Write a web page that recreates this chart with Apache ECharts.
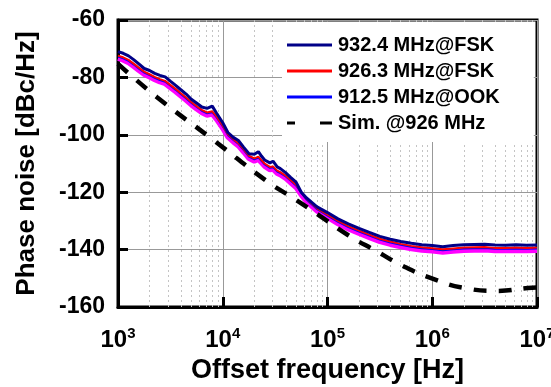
<!DOCTYPE html>
<html>
<head>
<meta charset="utf-8">
<script src="https://cdn.jsdelivr.net/npm/echarts@6/dist/echarts.min.js"></script>
<style>
  html, body { margin: 0; padding: 0; background: #fff; }
  #chart { width: 551px; height: 387px; }
</style>
</head>
<body>
<div id="chart"></div>
<script>
// offset frequencies [Hz] of the measured traces
const freqHz = [1000, 1120, 1260, 1410, 1580, 1780, 2000, 2240, 2510, 2820,
  3160, 3550, 3980, 4470, 5010, 5620, 6310, 7080, 7940, 8710,
  10000, 11200, 12600, 14100, 15800, 17800, 20000, 21900, 23400, 25100,
  28200, 30200, 33100, 35500, 39800, 44700, 50100, 56200, 63100, 79400,
  100000, 126000, 158000, 200000, 251000, 316000, 398000, 501000, 631000, 794000,
  1000000, 1260000, 1580000, 2000000, 2510000, 3160000, 3980000, 5010000, 6310000, 7940000,
  10000000];

// phase noise [dBc/Hz]
const pn932FSK = [-71.0, -71.6, -72.5, -73.8, -75.3, -76.9, -77.6, -78.6, -79.3, -79.8,
  -81.3, -82.8, -84.3, -85.8, -87.6, -88.9, -90.3, -90.8, -90.0, -92.4,
  -95.8, -99.2, -100.9, -102.0, -104.3, -106.6, -106.8, -105.9, -107.4, -108.8,
  -109.8, -109.2, -111.2, -111.8, -113.2, -114.9, -116.5, -120.0, -122.0, -125.1,
  -127.1, -129.3, -131.0, -132.6, -134.0, -135.4, -136.4, -137.2, -137.8, -138.3,
  -138.6, -139.0, -138.6, -138.3, -138.2, -138.1, -138.4, -138.5, -138.3, -138.5,
  -138.4];
const pn926FSK = [-72.4, -73.0, -73.9, -75.2, -76.6, -78.0, -78.9, -79.8, -80.6, -81.2,
  -82.6, -84.0, -85.5, -87.0, -88.6, -90.0, -91.3, -92.2, -91.8, -93.6,
  -96.8, -99.8, -101.5, -102.9, -105.0, -107.3, -108.2, -107.6, -108.8, -110.0,
  -111.2, -111.0, -112.5, -113.0, -114.2, -115.8, -117.4, -120.0, -122.3, -125.6,
  -127.8, -130.0, -131.8, -133.4, -134.8, -136.2, -137.2, -138.0, -138.7, -139.2,
  -139.5, -139.9, -139.6, -139.3, -139.2, -139.1, -139.4, -139.4, -139.3, -139.4,
  -139.3];
const pn912OOK = [-72.8, -73.4, -74.3, -75.6, -77.0, -78.4, -79.3, -80.2, -81.0, -81.6,
  -83.0, -84.4, -85.9, -87.4, -89.0, -90.4, -91.7, -92.6, -92.2, -94.0,
  -97.2, -100.2, -101.9, -103.3, -105.4, -107.7, -108.6, -108.0, -109.2, -110.4,
  -111.6, -111.4, -112.9, -113.4, -114.6, -116.2, -117.8, -120.4, -122.7, -126.0,
  -128.2, -130.4, -132.2, -133.8, -135.2, -136.6, -137.6, -138.4, -139.1, -139.6,
  -139.9, -140.3, -140.0, -139.7, -139.6, -139.5, -139.8, -139.8, -139.7, -139.8,
  -139.7];
const pnMagenta = [-73.4, -74.0, -74.9, -76.2, -77.6, -79.0, -79.9, -80.8, -81.6, -82.2,
  -83.6, -85.0, -86.5, -88.0, -89.6, -91.0, -92.3, -93.2, -92.8, -94.6,
  -97.8, -100.8, -102.5, -103.9, -106.0, -108.3, -109.2, -108.6, -109.8, -111.0,
  -112.2, -112.0, -113.5, -114.0, -115.2, -116.8, -118.4, -121.0, -123.3, -126.6,
  -128.8, -131.0, -132.8, -134.4, -135.8, -137.2, -138.2, -139.0, -139.7, -140.2,
  -140.5, -140.9, -140.6, -140.3, -140.2, -140.1, -140.4, -140.4, -140.3, -140.4,
  -140.3];

// simulation @926 MHz
const simFreqHz = [1000, 2340, 8130, 26900, 46800, 85100, 158000, 295000, 525000,
  1020000, 2040000, 4170000, 8130000, 10000000];
const sim926 = [-75.3, -86.8, -101.8, -116.4, -122.0, -128.3, -135.0, -140.6, -145.7,
  -150.2, -153.4, -154.4, -153.4, -153.2];

// axes
const decades = [1000, 10000, 100000, 1000000, 10000000];
const minorMult = [2, 3, 4, 5, 6, 7, 8, 9];
const yTicks = [-160, -140, -120, -100, -80, -60];

const minorLines = [];
decades.slice(0, -1).forEach(d => minorMult.forEach(m => minorLines.push({ xAxis: d * m })));

const pairs = (xs, ys) => xs.map((x, i) => [x, ys[i]]);
const FONT = '"Liberation Sans", Arial, sans-serif';
const SOLID_ICON = 'path://M0,0h45v3h-45z';
const DASH_ICON = 'path://M0,0h8v3h-8z M33,0h12v3h-12z';

const chart = echarts.init(document.getElementById('chart'));

function trace(name, data, color, width, z) {
  return {
    name: name,
    type: 'line',
    data: data,
    symbol: 'none',
    z: z,
    lineStyle: { color: color, width: width },
    itemStyle: { color: color }
  };
}

const option = {
  backgroundColor: '#fff',
  animation: false,
  grid: {
    left: 118, right: 14, top: 20, bottom: 80,
    outerBoundsMode: 'none',
    show: true, borderColor: '#000', borderWidth: 3, backgroundColor: 'transparent'
  },
  legend: {
    data: [
      { name: '932.4 MHz@FSK', icon: SOLID_ICON },
      { name: '926.3 MHz@FSK', icon: SOLID_ICON },
      { name: '912.5 MHz@OOK', icon: SOLID_ICON },
      { name: 'Sim. @926 MHz', icon: DASH_ICON }
    ],
    orient: 'vertical',
    left: 282, top: 22,
    padding: [13, 34, 9, 5],
    backgroundColor: '#fff',
    itemWidth: 45, itemHeight: 3,
    itemGap: 6,
    textStyle: { fontFamily: FONT, fontWeight: 'bold', fontSize: 20, color: '#000', lineHeight: 20, padding: [0, 0, 0, 1] }
  },
  xAxis: {
    type: 'log', logBase: 10,
    min: decades[0], max: decades[decades.length - 1],
    name: 'Offset frequency [Hz]',
    nameLocation: 'middle', nameGap: 50,
    nameTextStyle: { fontFamily: FONT, fontWeight: 'bold', fontSize: 27, color: '#000' },
    axisLine: { lineStyle: { color: '#000', width: 3 } },
    axisTick: { inside: true, length: 10, lineStyle: { color: '#000', width: 3 } },
    splitLine: { show: true, lineStyle: { color: '#999', width: 1 } },
    axisLabel: {
      margin: 19,
      formatter: v => '{b|10}{s|' + Math.round(Math.log10(v)) + '}',
      rich: {
        b: { fontFamily: FONT, fontWeight: 'bold', fontSize: 24, color: '#000', verticalAlign: 'bottom', lineHeight: 26 },
        s: { fontFamily: FONT, fontWeight: 'bold', fontSize: 15, color: '#000', verticalAlign: 'top', lineHeight: 26, padding: [0, 0, 10, 0] }
      }
    }
  },
  yAxis: {
    type: 'value',
    min: yTicks[0], max: yTicks[yTicks.length - 1], interval: 20,
    name: 'Phase noise [dBc/Hz]',
    nameLocation: 'middle', nameGap: 78,
    nameTextStyle: { fontFamily: FONT, fontWeight: 'bold', fontSize: 26, color: '#000' },
    axisLine: { lineStyle: { color: '#000', width: 3 } },
    axisTick: { inside: true, length: 10, lineStyle: { color: '#000', width: 3 } },
    splitLine: { show: true, lineStyle: { color: '#999', width: 1 } },
    axisLabel: { margin: 13, fontFamily: FONT, fontWeight: 'bold', fontSize: 23, color: '#000' }
  },
  series: [
    Object.assign(trace('', pairs(freqHz, pnMagenta), '#ff00ff', 5, 2), {
      markLine: {
        silent: true, symbol: 'none', label: { show: false },
        lineStyle: { color: '#c4c4c4', width: 1, type: [2, 3] },
        data: minorLines, z: 1
      }
    }),
    trace('912.5 MHz@OOK', pairs(freqHz, pn912OOK), '#0000ff', 1.5, 3),
    trace('926.3 MHz@FSK', pairs(freqHz, pn926FSK), '#ff0000', 2, 4),
    trace('932.4 MHz@FSK', pairs(freqHz, pn932FSK), '#000088', 3, 5),
    {
      name: 'Sim. @926 MHz', type: 'line', data: pairs(simFreqHz, sim926),
      symbol: 'none', smooth: true, z: 6,
      lineStyle: { color: '#000', width: 4.5, type: [13, 12] },
      itemStyle: { color: '#000' }
    }
  ]
};

chart.setOption(option);
</script>
</body>
</html>
